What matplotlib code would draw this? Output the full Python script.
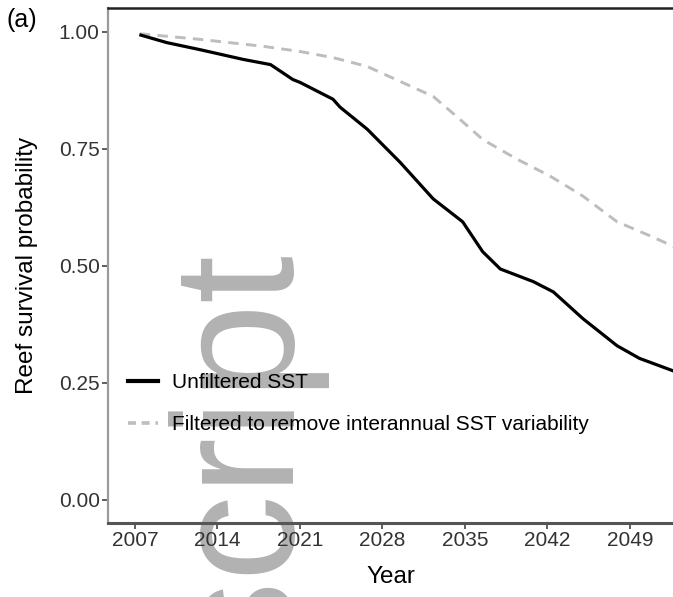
import matplotlib
matplotlib.use("Agg")
import matplotlib.pyplot as plt
from matplotlib.lines import Line2D

plt.rcParams['font.family'] = ['Liberation Sans', 'DejaVu Sans']

# ---- data ----
years_unfiltered = [2007.5, 2009.7, 2012.5, 2016.2, 2018.5, 2020.4, 2021.0, 2023.8, 2024.4,
                    2026.7, 2029.5, 2032.3, 2034.8, 2036.5, 2038.0, 2040.8, 2042.5, 2045.0,
                    2047.9, 2049.8, 2052.8]
surv_unfiltered = [0.993, 0.977, 0.962, 0.941, 0.930, 0.898, 0.892, 0.856, 0.839,
                   0.792, 0.721, 0.643, 0.594, 0.530, 0.493, 0.466, 0.444, 0.387,
                   0.329, 0.302, 0.274]

years_filtered = [2007.4, 2012.5, 2017.9, 2021.0, 2023.8, 2026.7, 2029.5, 2032.3, 2034.3,
                  2036.5, 2039.4, 2042.2, 2045.0, 2047.9, 2050.7, 2052.8]
surv_filtered = [0.996, 0.984, 0.969, 0.958, 0.945, 0.926, 0.894, 0.862, 0.819,
                 0.770, 0.728, 0.692, 0.649, 0.594, 0.564, 0.540]

x_ticks = [2007, 2014, 2021, 2028, 2035, 2042, 2049]
y_ticks = [0.00, 0.25, 0.50, 0.75, 1.00]
y_tick_labels = ["0.00", "0.25", "0.50", "0.75", "1.00"]
legend_labels = ["Unfiltered SST", "Filtered to remove interannual SST variability"]

W, H = 673, 597
fig = plt.figure(figsize=(W / 100, H / 100), dpi=100)
fig.patch.set_facecolor("white")

# watermark fragment (behind the chart)
fig.text(330 / W, 1 - 255 / H, "Author Manuscript", rotation=90, ha="right", va="top",
         fontsize=124, color="#b2b2b2", zorder=-5, family="Liberation Sans")

left, right, top, bottom = 108, 673, 8, 523
ax = fig.add_axes([left / W, 1 - bottom / H, (right - left) / W, (bottom - top) / H])
ax.set_facecolor("none")

ax.plot(years_filtered, surv_filtered, color="#bdbdbd", lw=2.1, dashes=(3.6, 2.5),
        solid_capstyle="butt")
ax.plot(years_unfiltered, surv_unfiltered, color="black", lw=2.3)

ax.set_xlim(2004.71, 2052.65)
ax.set_ylim(-0.05, 1.051)

ax.set_xticks(x_ticks)
ax.set_xticklabels([str(v) for v in x_ticks])
ax.set_yticks(y_ticks)
ax.set_yticklabels(y_tick_labels)
ax.tick_params(axis="both", direction="out", length=4, width=1.1, color="#333333",
               labelsize=15, labelcolor="#333333")
ax.tick_params(axis="y", pad=2)
ax.tick_params(axis="x", pad=2)

ax.spines["right"].set_visible(False)
ax.spines["top"].set_color("#222222")
ax.spines["top"].set_linewidth(1.8)
ax.spines["left"].set_color("#9a9a9a")
ax.spines["left"].set_linewidth(1.6)
ax.spines["bottom"].set_color("#555555")
ax.spines["bottom"].set_linewidth(2.2)

ax.set_xlabel("Year", fontsize=17.5, color="black", labelpad=11)
ax.set_ylabel("Reef survival probability", fontsize=17.5, color="black", labelpad=15)

handles = [Line2D([], [], color="black", lw=3.0),
           Line2D([], [], color="#bdbdbd", lw=2.6, dashes=(2.2, 1.6))]
leg = ax.legend(handles, legend_labels, loc="center left",
                bbox_to_anchor=((128 - left) / (right - left), (bottom - 403.5) / (bottom - top)),
                frameon=False, fontsize=15, handlelength=1.45, handletextpad=0.65,
                labelspacing=1.1, borderpad=0, borderaxespad=0)
for t in leg.get_texts():
    t.set_color("black")

fig.text(7 / W, 1 - 20 / H, "(a)", fontsize=18, ha="left", va="center", color="black")

fig.savefig("out.png", dpi=100)
